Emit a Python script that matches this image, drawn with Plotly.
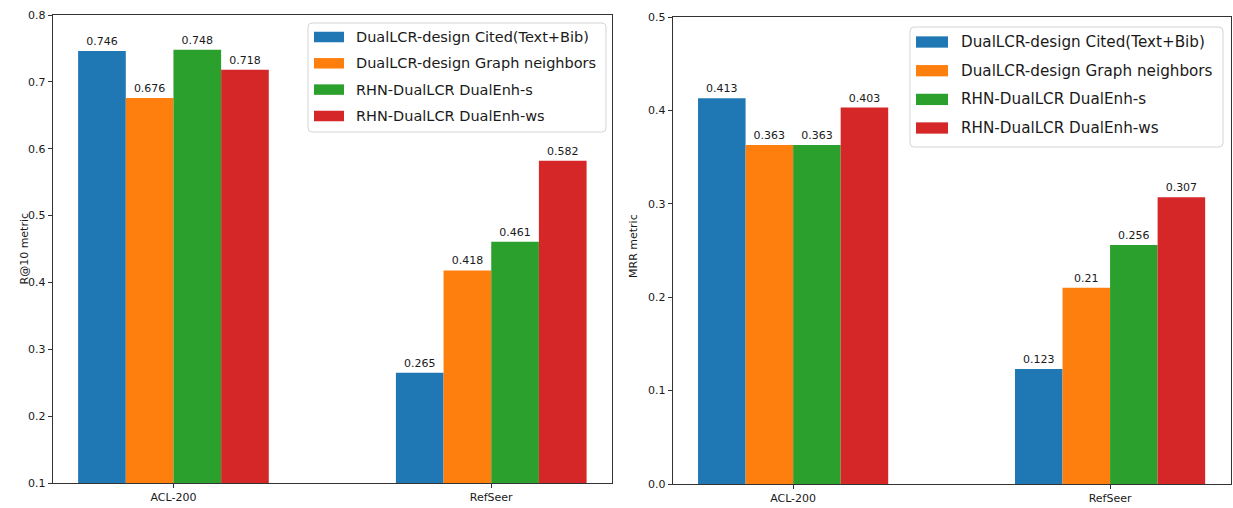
import plotly.graph_objects as go

# ---- data ----
datasets = ["ACL-200", "RefSeer"]
methods = [
    "DualLCR-design Cited(Text+Bib)",
    "DualLCR-design Graph neighbors",
    "RHN-DualLCR DualEnh-s",
    "RHN-DualLCR DualEnh-ws",
]
colors = ["#1f77b4", "#ff7f0e", "#2ca02c", "#d62728"]

r10_cited = [0.746, 0.265]
r10_graph = [0.676, 0.418]
r10_enh_s = [0.748, 0.461]
r10_enh_ws = [0.718, 0.582]

mrr_cited = [0.413, 0.123]
mrr_graph = [0.363, 0.21]
mrr_enh_s = [0.363, 0.256]
mrr_enh_ws = [0.403, 0.307]

r10_series = [r10_cited, r10_graph, r10_enh_s, r10_enh_ws]
mrr_series = [mrr_cited, mrr_graph, mrr_enh_s, mrr_enh_ws]

W, H = 1233, 508
FONT = "DejaVu Sans"
TXT = "#1a1a1a"
SPINE = "#333333"


def px(x):
    return x / W


def py(y):
    return 1 - y / H


fig = go.Figure()

for k, name in enumerate(methods):
    for series, xa, ya in ((r10_series, "x", "y"), (mrr_series, "x2", "y2")):
        vals = series[k]
        fig.add_trace(go.Bar(
            x=datasets, y=vals, name=name, xaxis=xa, yaxis=ya,
            marker=dict(color=colors[k], line=dict(width=0)),
            text=[str(v) for v in vals], textposition="outside",
            textfont=dict(family=FONT, size=11, color=TXT),
            cliponaxis=False, showlegend=False,
        ))

axis_common = dict(
    showline=True, linecolor=SPINE, linewidth=1, mirror=True,
    ticks="outside", ticklen=4, tickwidth=1, tickcolor=SPINE,
    tickfont=dict(family=FONT, size=11, color=TXT),
    showgrid=False, zeroline=False, automargin=False,
)

fig.update_layout(
    width=W, height=H,
    margin=dict(l=0, r=0, t=0, b=0, pad=0, autoexpand=False),
    paper_bgcolor="white", plot_bgcolor="white",
    barmode="group", bargap=0.4, bargroupgap=0,
    font=dict(family=FONT, color=TXT),
    xaxis=dict(domain=[px(52.7), px(612)], anchor="y", range=[-0.38, 1.38], **axis_common),
    yaxis=dict(domain=[py(483), py(15)], anchor="x", range=[0.1, 0.8], dtick=0.1,
               tickformat=".1f", **axis_common),
    xaxis2=dict(domain=[px(672.7), px(1230.5)], anchor="y2", range=[-0.38, 1.38], **axis_common),
    yaxis2=dict(domain=[py(484), py(17)], anchor="x2", range=[0, 0.5], dtick=0.1,
                tickformat=".1f", **axis_common),
)

# y axis titles
fig.add_annotation(text="R@10 metric", x=px(15), y=py(249), xref="paper", yref="paper",
                   textangle=-90, showarrow=False, font=dict(family=FONT, size=11, color=TXT))
fig.add_annotation(text="MRR metric", x=px(633), y=py(246), xref="paper", yref="paper",
                   textangle=-90, showarrow=False, font=dict(family=FONT, size=11, color=TXT))


def rounded_box(x0, y0, x1, y1, r):
    """SVG path (paper coords) for a box with rounded corners, given pixel bounds."""
    X0, X1, Y0, Y1 = px(x0), px(x1), py(y0), py(y1)  # Y0 is top edge
    rx, ry = r / W, r / H
    return (f"M{X0 + rx},{Y0} L{X1 - rx},{Y0} Q{X1},{Y0} {X1},{Y0 - ry} "
            f"L{X1},{Y1 + ry} Q{X1},{Y1} {X1 - rx},{Y1} "
            f"L{X0 + rx},{Y1} Q{X0},{Y1} {X0},{Y1 + ry} "
            f"L{X0},{Y0 - ry} Q{X0},{Y0} {X0 + rx},{Y0} Z")


# legend boxes drawn inside each panel
def draw_legend(box, sw_x, rows, sw_h, text_x, fsize):
    x0, y0, x1, y1 = box
    fig.add_shape(type="path", xref="paper", yref="paper",
                  path=rounded_box(x0, y0, x1, y1, 4),
                  line=dict(color="#d4d4d4", width=1), fillcolor="rgba(255,255,255,0.85)")
    for k, name in enumerate(methods):
        yc = rows[k]
        fig.add_shape(type="rect", xref="paper", yref="paper",
                      x0=px(sw_x[0]), x1=px(sw_x[1]),
                      y0=py(yc + sw_h / 2), y1=py(yc - sw_h / 2),
                      line=dict(width=0), fillcolor=colors[k])
        fig.add_annotation(text=name, x=px(text_x), y=py(yc), xref="paper", yref="paper",
                           xanchor="left", yanchor="middle", showarrow=False,
                           font=dict(family=FONT, size=fsize, color=TXT))


draw_legend((308, 23, 606, 132), (314, 344), [37, 63.3, 89.6, 116], 10.5, 354, 14.5)
draw_legend((910, 27, 1223, 147), (916, 948), [42, 70.7, 99.4, 128], 11.3, 959, 15.2)

fig.write_html("out.html")
